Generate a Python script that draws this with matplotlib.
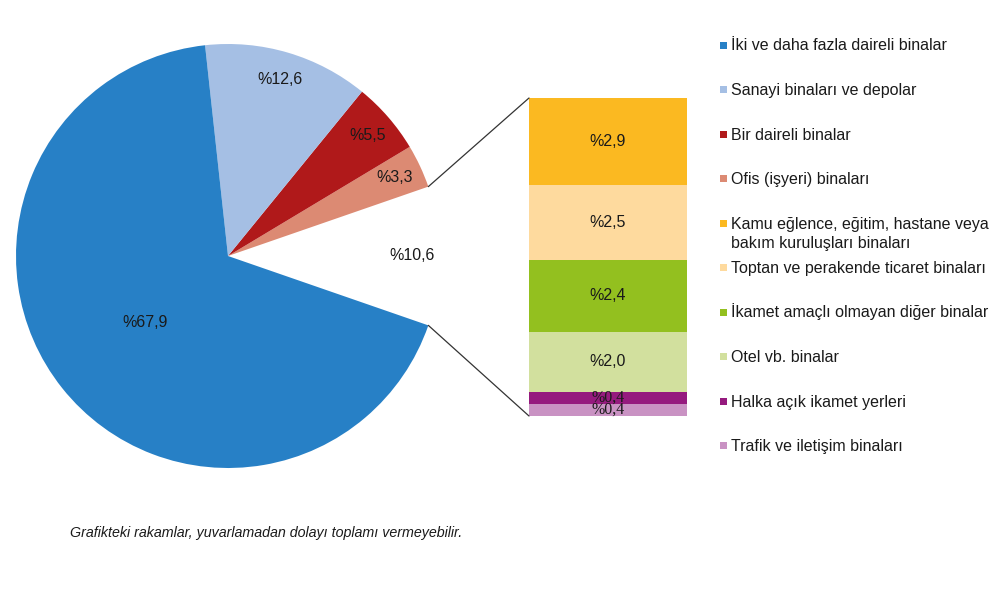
import numpy as np
import matplotlib.pyplot as plt
from matplotlib.patches import ConnectionPatch, Rectangle

plt.rcParams['font.family'] = ['Liberation Sans', 'DejaVu Sans']

# pie part (counter-clockwise from the right): the "other" slice first
pie_labels = ['Diğer', 'Ofis (işyeri) binaları', 'Bir daireli binalar',
              'Sanayi binaları ve depolar', 'İki ve daha fazla daireli binalar']
pie_values = [10.6, 3.3, 5.5, 12.6, 67.9]
pie_colors = ['none', '#DC8A73', '#B0191A', '#A5BFE4', '#2780C6']
pie_text = ['%10,6', '%3,3', '%5,5', '%12,6', '%67,9']

# bar part (bottom to top)
bar_labels = ['Trafik ve iletişim binaları', 'Halka açık ikamet yerleri',
              'Otel vb. binalar', 'İkamet amaçlı olmayan diğer binalar',
              'Toptan ve perakende ticaret binaları',
              'Kamu eğlence, eğitim, hastane veya\nbakım kuruluşları binaları']
bar_values = [0.4, 0.4, 2.0, 2.4, 2.5, 2.9]
bar_colors = ['#C992C3', '#951A7E', '#D2E09E', '#93C01F', '#FEDA9E', '#FBB921']
bar_text = ['%0,4', '%0,4', '%2,0', '%2,4', '%2,5', '%2,9']

W, H = 992, 594
FS = 11.5
fig = plt.figure(figsize=(W / 100, H / 100), dpi=100)


def fx(px):
    return px / W


def fy(py):
    return 1 - py / H


# pie axes
cx, cy, r = 228, 256, 212
ax = fig.add_axes([fx(cx - r), fy(cy + r), 2 * r / W, 2 * r / H])
start = -pie_values[0] / sum(pie_values) * 360 / 2
wedges, _ = ax.pie(pie_values, colors=pie_colors, startangle=start,
                   counterclock=True, radius=1,
                   wedgeprops=dict(linewidth=0))
ax.set_xlim(-1, 1)
ax.set_ylim(-1, 1)
ax.axis('off')

for w, t in zip(wedges, pie_text):
    mid = np.deg2rad((w.theta1 + w.theta2) / 2)
    rr = 0.5 if t == '%67,9' else 0.87
    ax.text(rr * np.cos(mid), rr * np.sin(mid), t, ha='center', va='center',
            fontsize=FS, color='#1a1a1a')

# bar axes
bx0, bx1, by0, by1 = 529, 687, 98, 416
bax = fig.add_axes([fx(bx0), fy(by1), (bx1 - bx0) / W, (by1 - by0) / H])
bottom = 0
for v, c, t in zip(bar_values, bar_colors, bar_text):
    bax.bar(0.5, v, width=1, bottom=bottom, color=c, linewidth=0)
    fam = ['Liberation Serif'] if v < 1 else ['Liberation Sans']
    bax.text(0.5, bottom + v / 2, t, ha='center', va='center',
             fontsize=FS, color='#1a1a1a', family=fam)
    bottom += v
bax.set_xlim(0, 1)
bax.set_ylim(0, bottom)
bax.axis('off')

# connector lines
ow = wedges[0]
for ang, yb in [(ow.theta2, bottom), (ow.theta1, 0)]:
    a = np.deg2rad(ang)
    con = ConnectionPatch(xyA=(np.cos(a), np.sin(a)), coordsA=ax.transData,
                          xyB=(0, yb), coordsB=bax.transData,
                          color='#333333', linewidth=0.9)
    fig.add_artist(con)

# legend, drawn by hand to keep the reference spacing
leg_labels = [pie_labels[4], pie_labels[3], pie_labels[2], pie_labels[1]] + bar_labels[::-1]
leg_colors = [pie_colors[4], pie_colors[3], pie_colors[2], pie_colors[1]] + bar_colors[::-1]
for i, (lab, col) in enumerate(zip(leg_labels, leg_colors)):
    y = 45 + 44.5 * i
    fig.add_artist(Rectangle((fx(720), fy(y + 3.5)), 7 / W, 7 / H,
                             transform=fig.transFigure, color=col, linewidth=0))
    nl = lab.count('\n')
    fig.text(fx(731), fy(y + 5.5 + 19 * nl), lab, ha='left', va='baseline',
             fontsize=FS, color='#1a1a1a', linespacing=1.3)

fig.text(fx(70), fy(533), 'Grafikteki rakamlar, yuvarlamadan dolayı toplamı vermeyebilir.',
         ha='left', va='center', fontsize=10.3, style='italic', color='#1a1a1a')

fig.savefig('out.png', dpi=100)
